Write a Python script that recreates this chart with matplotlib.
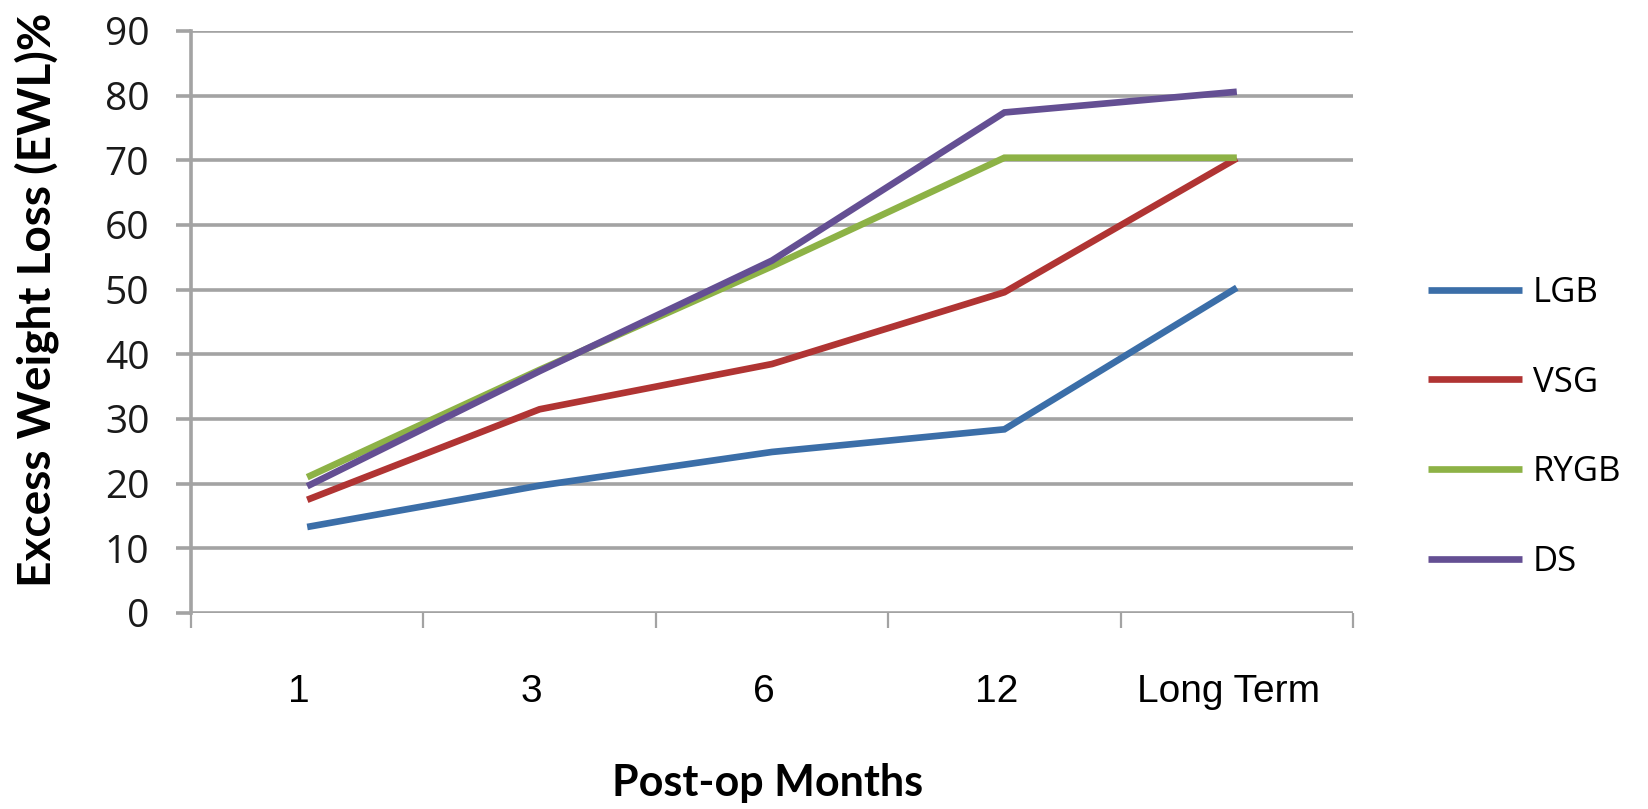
import numpy as np
import matplotlib
matplotlib.use("Agg")
import matplotlib.pyplot as plt
from matplotlib.transforms import ScaledTranslation

# Excess weight loss (%) by procedure over the post-op follow-up
periods = ["1", "3", "6", "12", "Long Term"]
lgb = [13.3, 19.7, 24.9, 28.4, 50.3]
vsg = [17.5, 31.5, 38.5, 49.6, 70.3]
rygb = [21.0, 37.6, 53.6, 70.4, 70.4]
ds = [19.6, 37.4, 54.5, 77.4, 80.6]

series = [
    ("LGB", lgb, "#3b6ea8"),
    ("VSG", vsg, "#b03433"),
    ("RYGB", rygb, "#8db246"),
    ("DS", ds, "#644f93"),
]

grid_col = "#a3a3a3"

fig = plt.figure(figsize=(16.48, 8.09), dpi=100)
ax = fig.add_axes([0.1159, 0.2423, 0.8210 - 0.1159, 0.9617 - 0.2423])

x = np.arange(len(periods)) + 0.5
for name, vals, col in series:
    ax.plot(x, vals, color=col, lw=4.8, label=name, solid_capstyle="butt",
            solid_joinstyle="miter", zorder=3)

ax.set_xlim(0, len(periods))
ax.set_ylim(0, 90)

# horizontal grid with the zero line acting as the x axis
ax.set_yticks(np.arange(0, 91, 10))
ax.yaxis.grid(True, color=grid_col, lw=2.6)
ax.set_axisbelow(True)
for s in ["top", "right", "bottom"]:
    ax.spines[s].set_visible(False)
ax.spines["left"].set_color(grid_col)
ax.spines["left"].set_linewidth(2.6)

ax.tick_params(axis="y", length=11, width=2.6, color=grid_col, pad=19,
               labelsize=28, labelcolor="#1a1a1a")
for lab in ax.get_yticklabels():
    lab.set_fontfamily("Open Sans")

# category boundaries get tick marks, labels sit at the category centres
ax.set_xticks(np.arange(len(periods) + 1))
ax.set_xticklabels([])
ax.set_xticks(x, periods, minor=True)
ax.tick_params(axis="x", which="major", length=11, width=1.6, color=grid_col)
ax.tick_params(axis="x", which="minor", length=0, pad=44, labelsize=28)
shift = ScaledTranslation(-0.08, 0, fig.dpi_scale_trans)
for lab in ax.get_xticklabels(minor=True):
    lab.set_fontfamily("Liberation Sans")
    lab.set_transform(lab.get_transform() + shift)

fig.text(0.0225, 0.63, "Excess Weight Loss (EWL)%", rotation=90,
         ha="center", va="center", fontsize=33, fontweight="bold",
         family="Lato")
fig.text(0.4655, 0.032, "Post-op Months", ha="center", va="center",
         fontsize=31, fontweight="bold", family="Lato")

leg = ax.legend(loc="center left", bbox_to_anchor=(1.05, 0.319),
                frameon=False, borderpad=0, handlelength=2.7,
                handletextpad=0.3, labelspacing=1.6,
                prop={"family": "Open Sans", "size": 25})

fig.savefig("out.png", dpi=100, facecolor="white")
